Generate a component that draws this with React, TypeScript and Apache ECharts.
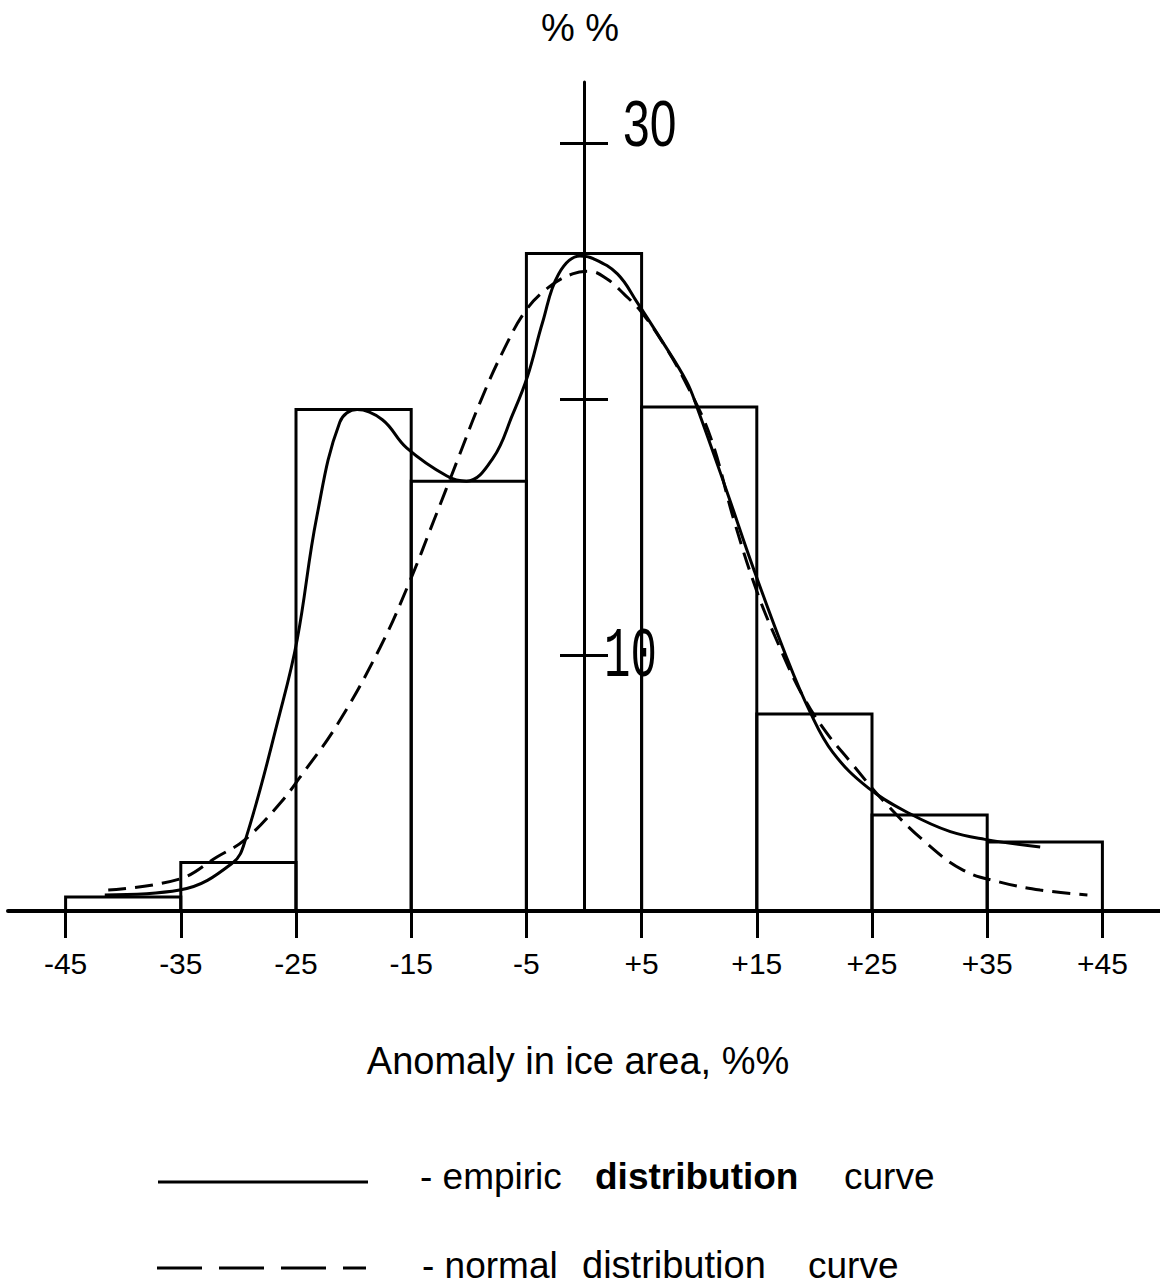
import React, { useEffect, useRef } from "react";
import * as echarts from "echarts";

// Histogram bins: edges (anomaly, %) and frequencies (%)
const binEdges = [-45, -35, -25, -15, -5, 5, 15, 25, 35, 45];
const binHeights = [0.55, 1.9, 19.6, 16.8, 25.7, 19.7, 7.7, 3.75, 2.7];

// Empiric distribution curve
const empiricX = [-41.6, -35.1, -30.5, -29.4, -26.4, -24.9, -23.2, -21.2, -19.7, -17.5, -15.4, -11.9, -10.2, -7.9, -6.2, -4.9, -3.6, -2.2, -0.35, 0.8, 2.9, 4.6, 6.6, 8.9, 9.8, 12.4, 14.7, 17.6, 19.6, 21.6, 24.7, 28.3, 31.8, 34.8, 39.6];
const empiricY = [0.63, 0.82, 1.88, 2.77, 7.73, 10.6, 15.4, 19.1, 19.6, 19.2, 18.1, 17.0, 16.8, 17.7, 19.4, 20.9, 23.0, 24.9, 25.6, 25.5, 24.9, 23.8, 22.4, 20.7, 19.7, 16.4, 13.4, 9.9, 7.8, 6.2, 4.8, 3.8, 3.1, 2.8, 2.5];

// Normal distribution curve
const normalX = [-41.3, -35.1, -31.9, -29.4, -26.4, -24.7, -21.4, -17.7, -15.2, -13, -11, -9, -7, -5, -3, -1, 0.5, 2, 3.5, 5, 7, 9, 11, 13, 15, 17, 19, 21, 23, 26, 29.6, 32.9, 36.1, 39.6, 43.7];
const normalY = [0.82, 1.25, 2.1, 2.8, 4.2, 5.2, 7.3, 10.3, 12.8, 15.3, 17.6, 19.9, 21.9, 23.5, 24.4, 24.9, 25.0, 24.7, 24.1, 23.4, 22.1, 20.5, 18.5, 15.3, 12.5, 10.3, 8.4, 7.0, 5.9, 4.3, 2.7, 1.6, 1.13, 0.82, 0.63];

// Axis ticks and labels
const xTickValues = binEdges;
const yTickValues = [10, 20, 30];
const yLabelValues = [30, 10];
const yLabelTexts = ["30", "10"];

// Texts
const yUnitText = "% %";
const xTitleText = "Anomaly in ice area, %%";
const legendEmpiric = ["- empiric", "distribution", "curve"];
const legendNormal = ["- normal", "distribution", "curve"];

const SANS = "'Liberation Sans', Arial, Helvetica, sans-serif";
const NARROW = "'Liberation Sans Narrow', 'Arial Narrow', 'Liberation Sans', sans-serif";
const MONO = "'Liberation Mono', 'Courier New', monospace";

export default function App() {
  const ref = useRef<HTMLDivElement>(null);

  useEffect(() => {
    if (!ref.current) return;
    const chart = echarts.init(ref.current, null, { renderer: "svg" });

    const bars = binHeights.map((h, i) => [binEdges[i], binEdges[i + 1], h]);
    const empiric = empiricX.map((x, i) => [x, empiricY[i]]);
    const normal = normalX.map((x, i) => [x, normalY[i]]);

    const txt = (id: string, text: string, x: number, y: number, size: number, family: string, weight = "normal", align = "left") => ({
      type: "text",
      id,
      x,
      y,
      silent: true,
      style: {
        text,
        fontSize: size,
        fontFamily: family,
        fontWeight: weight,
        fill: "#000",
        align,
        verticalAlign: "middle",
      },
    });

    const option: any = {
      animation: false,
      backgroundColor: "#fff",
      grid: { left: 8, right: 0, top: 82, bottom: 377, containLabel: false, outerBoundsMode: "none" },
      xAxis: {
        type: "value",
        min: -50,
        max: 50,
        axisLine: { show: true, onZero: false, lineStyle: { color: "#000", width: 4 } },
        axisTick: { show: true, customValues: xTickValues, length: 27, lineStyle: { color: "#000", width: 3 } },
        axisLabel: {
          show: true,
          customValues: xTickValues,
          margin: 37,
          fontSize: 30,
          fontFamily: NARROW,
          color: "#000",
          formatter: (v: number) => (v > 0 ? "+" + v : String(v)),
        },
        splitLine: { show: false },
      },
      yAxis: [
        {
          type: "value",
          min: 0,
          max: 32.4,
          position: "left",
          axisLine: { show: true, onZero: true, onZeroAxisIndex: 0, lineStyle: { color: "#000", width: 3 } },
          axisTick: { show: true, customValues: yTickValues, length: 24, inside: false, lineStyle: { color: "#000", width: 3 } },
          axisLabel: { show: false },
          splitLine: { show: false },
        },
        {
          type: "value",
          min: 0,
          max: 32.4,
          position: "left",
          axisLine: { show: false, onZero: true, onZeroAxisIndex: 0 },
          axisTick: { show: true, customValues: yTickValues, length: 24, inside: true, lineStyle: { color: "#000", width: 3 } },
          axisLabel: { show: false },
          splitLine: { show: false },
        },
      ],
      series: [
        {
          type: "custom",
          name: "histogram",
          xAxisIndex: 0,
          yAxisIndex: 0,
          data: bars,
          encode: { x: [0, 1], y: 2 },
          renderItem: (params: any, api: any) => {
            const p0 = api.coord([api.value(0), 0]);
            const p1 = api.coord([api.value(1), api.value(2)]);
            return {
              type: "rect",
              shape: { x: p0[0], y: p1[1], width: p1[0] - p0[0], height: p0[1] - p1[1] },
              style: { fill: "none", stroke: "#000", lineWidth: 3 },
            };
          },
        },
        {
          type: "line",
          name: "empiric distribution curve",
          xAxisIndex: 0,
          yAxisIndex: 0,
          data: empiric,
          smooth: 0.4,
          showSymbol: false,
          lineStyle: { color: "#000", width: 3 },
        },
        {
          type: "line",
          name: "normal distribution curve",
          xAxisIndex: 0,
          yAxisIndex: 0,
          data: normal,
          smooth: 0.4,
          showSymbol: false,
          lineStyle: { color: "#000", width: 3, type: [18, 9] },
        },
      ],
      graphic: [
        txt("yunit", yUnitText, 580, 28, 38, SANS, "normal", "center"),
        txt("xtitle", xTitleText, 578, 1061, 38, SANS, "normal", "center"),
        {
          type: "line",
          id: "legLine1",
          shape: { x1: 158, y1: 1182, x2: 368, y2: 1182 },
          style: { stroke: "#000", lineWidth: 3 },
        },
        {
          type: "line",
          id: "legLine2",
          shape: { x1: 157, y1: 1268, x2: 366, y2: 1268 },
          style: { stroke: "#000", lineWidth: 3, lineDash: [45, 17] },
        },
        txt("leg1a", legendEmpiric[0], 420, 1176, 37, SANS),
        txt("leg1b", legendEmpiric[1], 595, 1176, 37, SANS, "bold"),
        txt("leg1c", legendEmpiric[2], 844, 1176, 37, SANS),
        txt("leg2a", legendNormal[0], 422, 1265, 37, SANS),
        txt("leg2b", legendNormal[1], 582, 1265, 38, SANS),
        txt("leg2c", legendNormal[2], 808, 1265, 37, SANS),
      ],
    };

    chart.setOption(option);

    // Y tick labels placed from the axis scale
    const p30 = chart.convertToPixel({ xAxisIndex: 0, yAxisIndex: 0 }, [0, yLabelValues[0]]) as number[];
    const p10 = chart.convertToPixel({ xAxisIndex: 0, yAxisIndex: 0 }, [0, yLabelValues[1]]) as number[];
    chart.setOption({
      graphic: [
        {
          type: "text",
          id: "ylab30",
          x: p30[0] + 39,
          y: p30[1] - 20,
          scaleY: 1.35,
          style: { text: yLabelTexts[0], fontSize: 48, fontFamily: SANS, fill: "#000", align: "left", verticalAlign: "middle" },
        },
        {
          type: "text",
          id: "ylab10",
          x: p10[0] + 18,
          y: p10[1] + 2,
          scaleY: 1.6,
          style: {
            text: yLabelTexts[1],
            fontSize: 44,
            fontFamily: MONO,
            fill: "#000",
            align: "left",
            verticalAlign: "middle",
            backgroundColor: "#fff",
            padding: [1, 2],
          },
        },
      ],
    });

    return () => chart.dispose();
  }, []);

  return (
    <div
      ref={ref}
      style={{ position: "absolute", left: 0, top: 0, width: 1160, height: 1288, background: "#fff" }}
    />
  );
}
